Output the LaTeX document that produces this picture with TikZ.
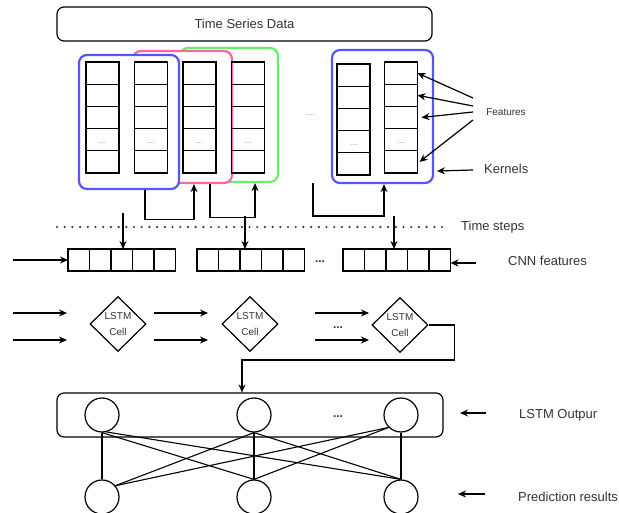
\documentclass[tikz,border=0pt]{standalone}
\usepackage{fontspec}
\setmainfont{Liberation Sans}
\usetikzlibrary{arrows.meta,shapes.geometric}
\definecolor{kblue}{RGB}{85,85,250}
\definecolor{kpink}{RGB}{250,100,170}
\definecolor{kgreen}{RGB}{100,240,100}
\definecolor{txt}{RGB}{51,51,51}
\begin{document}
\begin{tikzpicture}[x=1pt,y=-1pt,
  arr/.style={-{Stealth[length=8pt,width=7pt]}, line width=1.2pt},
  ln/.style={line width=1.1pt},
  cell/.style={draw, line width=1.05pt, minimum width=33pt, minimum height=22.2pt, inner sep=0pt, outer sep=0pt},
  fcell/.style={draw, line width=1.05pt, minimum width=21.5pt, minimum height=22pt, inner sep=0pt, outer sep=0pt},
  kbox/.style={draw, rounded corners=8pt, line width=2.2pt, fill=white, inner sep=0pt},
  lbl/.style={text=txt, font=\fontsize{13}{15}\selectfont, inner sep=0pt},
  gdots/.style={text=gray!75, font=\fontsize{9}{9}\selectfont, inner sep=0pt},
  ddots/.style={text=txt, font=\fontsize{12}{12}\selectfont\bfseries, inner sep=0pt},
  diam/.style={draw, diamond, line width=1.2pt, minimum width=56pt, minimum height=55pt, inner sep=0pt, align=center, text=txt, font=\fontsize{10}{16}\selectfont},
  circ/.style={draw, circle, minimum size=34pt, line width=1.2pt, inner sep=0pt},
  dotline/.style={line width=2.4pt, line cap=round, dash pattern=on 0pt off 7.7pt, color=txt}]
\useasboundingbox (0,0) rectangle (619,513);

% Title box
\node[draw, rounded corners=7pt, line width=1.2pt, minimum width=375pt, minimum height=34pt, lbl] (tsd) at (244.5,24) {Time Series Data};

% Kernel boxes
\node[kbox, draw=kgreen, minimum width=98pt, minimum height=134pt] (green) at (229,115) {};
\node[kbox, draw=kpink, minimum width=99pt, minimum height=132pt] (pink) at (182.5,117) {};
\node[kbox, draw=kblue, minimum width=100pt, minimum height=134pt] (blue1) at (129,122) {};
\node[kbox, draw=kblue, minimum width=101pt, minimum height=133pt] (blue2) at (382.5,116.5) {};

% Feature columns
\foreach \n/\x/\y in {1/102.5/62, 2/151/62, 3/199.5/62, 4/248/62, 5/353.5/64, 6/401/62} {
  \foreach \i in {1,...,5} {
    \node[cell] (c\n-\i) at (\x, {\y+11.1+22.2*(\i-1)}) {};
  }
  \node[gdots] (cd\n) at (\x, {\y+81}) {...};
}
\node[gdots] (mdots) at (310,115) {....};

% Feature arrows
\coordinate (fe1) at (473,98);
\coordinate (fe2) at (473,106);
\coordinate (fe3) at (473,112);
\coordinate (fe4) at (473,120);
\draw[arr] (fe1) -- (c6-1.east);
\draw[arr] (fe2) -- (c6-2.east);
\draw[arr] (fe3) -- ([xshift=4pt]c6-3.east);
\draw[arr] (fe4) -- ([xshift=2pt]c6-5.east);
\node[text=txt, font=\fontsize{10}{12}\selectfont, inner sep=0pt] (featlbl) at (506,112) {Features};

\coordinate (kA) at (473,170);
\coordinate (kB) at (437,171);
\draw[arr] (kA) -- (kB);
\node[lbl, anchor=west] (kernlbl) at (484,169) {Kernels};

% Kernel connectors
\draw[ln, -{Stealth[length=8pt,width=7pt]}] ([xshift=16pt]blue1.south) -- ++(0,29) -| ([xshift=11.5pt]pink.south);
\draw[ln, -{Stealth[length=8pt,width=7pt]}] ([xshift=27.5pt]pink.south) -- ++(0,33) -| ([xshift=26pt]green.south);
\coordinate (k3s) at (313,183);
\draw[ln, -{Stealth[length=8pt,width=7pt]}] (k3s) -- ++(0,33) -| ([xshift=1.5pt]blue2.south);

% Time steps
\coordinate (ts1) at (57,227);
\coordinate (ts2) at (447,227);
\draw[dotline] (ts1) -- (ts2);
\node[lbl, anchor=west] (tslbl) at (461,227) {Time steps};

% CNN feature boxes
\foreach \n/\x in {1/68, 2/197, 3/343} {
  \foreach \i in {1,...,5} {
    \node[fcell] (f\n-\i) at ({\x+10.75+21.5*(\i-1)}, 260) {};
  }
}
\node[ddots] (cnndots) at (320,262) {...};

% Down arrows
\coordinate (d1s) at (123,213);
\coordinate (d2s) at (245,216);
\coordinate (d3s) at (394,216);
\draw[arr] (d1s) -- (d1s |- f1-3.north);
\draw[arr] (d2s) -- (d2s |- f2-3.north);
\draw[arr] (d3s) -- (d3s |- f3-3.north);

\coordinate (a1s) at (13,260);
\draw[arr] (a1s) -- (f1-1.west);
\coordinate (a2s) at (476,263);
\draw[arr] (a2s) -- (a2s -| f3-5.east);
\node[lbl, anchor=west] (cnnlbl) at (508,261) {CNN features};

% LSTM cells
\node[diam] (l1) at (118,324) {LSTM\\Cell};
\node[diam] (l2) at (250,324) {LSTM\\Cell};
\node[diam] (l3) at (400,325) {LSTM\\Cell};

\foreach \k/\xa/\xb in {1/13/67, 2/154/208, 3/315/369} {
  \coordinate (ua\k) at (\xa,313);
  \coordinate (ub\k) at (\xb,313);
  \coordinate (va\k) at (\xa,340);
  \coordinate (vb\k) at (\xb,340);
  \draw[arr] (ua\k) -- (ub\k);
  \draw[arr] (va\k) -- (vb\k);
}
\node[ddots] (lstmdots) at (338,328) {...};

% LSTM output box
\node[draw, rounded corners=7pt, line width=1.2pt, minimum width=386pt, minimum height=44pt] (out) at (250,415) {};
\draw[ln, -{Stealth[length=8pt,width=7pt]}] (l3.east) -- ++(26,0) -- ++(0,35) -| ([xshift=-8pt]out.north);

\node[circ] (t1) at (102,415) {};
\node[circ] (t2) at (254,415) {};
\node[circ] (t3) at (401,415) {};
\node[ddots] (outdots) at (338,417) {...};
\node[circ] (b1) at (102,497) {};
\node[circ] (b2) at (254,497) {};
\node[circ] (b3) at (401,497) {};

% Dense connections
\draw[ln] (t1.south) -- (b1.north);
\draw[ln] (t1.south) -- (b2.north);
\draw[ln] (t1.-75) -- (b3.north);
\draw[ln] (t2.south) -- (b1.40);
\draw[ln] (t2.south) -- (b2.north);
\draw[ln] (t2.south) -- (b3.north);
\draw[ln] (t3.-135) -- (b1.40);
\draw[ln] (t3.-135) -- (b2.north);
\draw[ln] (t3.south) -- (b3.north);

% Right labels
\coordinate (oA) at (486,413);
\coordinate (oB) at (460,413);
\draw[arr] (oA) -- (oB);
\node[lbl, anchor=west] (outlbl) at (519,415) {LSTM Outpur};
\coordinate (pA) at (485,494);
\coordinate (pB) at (458,494);
\draw[arr] (pA) -- (pB);
\node[lbl, anchor=west] (predlbl) at (518,497) {Prediction results};
\end{tikzpicture}
\end{document}
